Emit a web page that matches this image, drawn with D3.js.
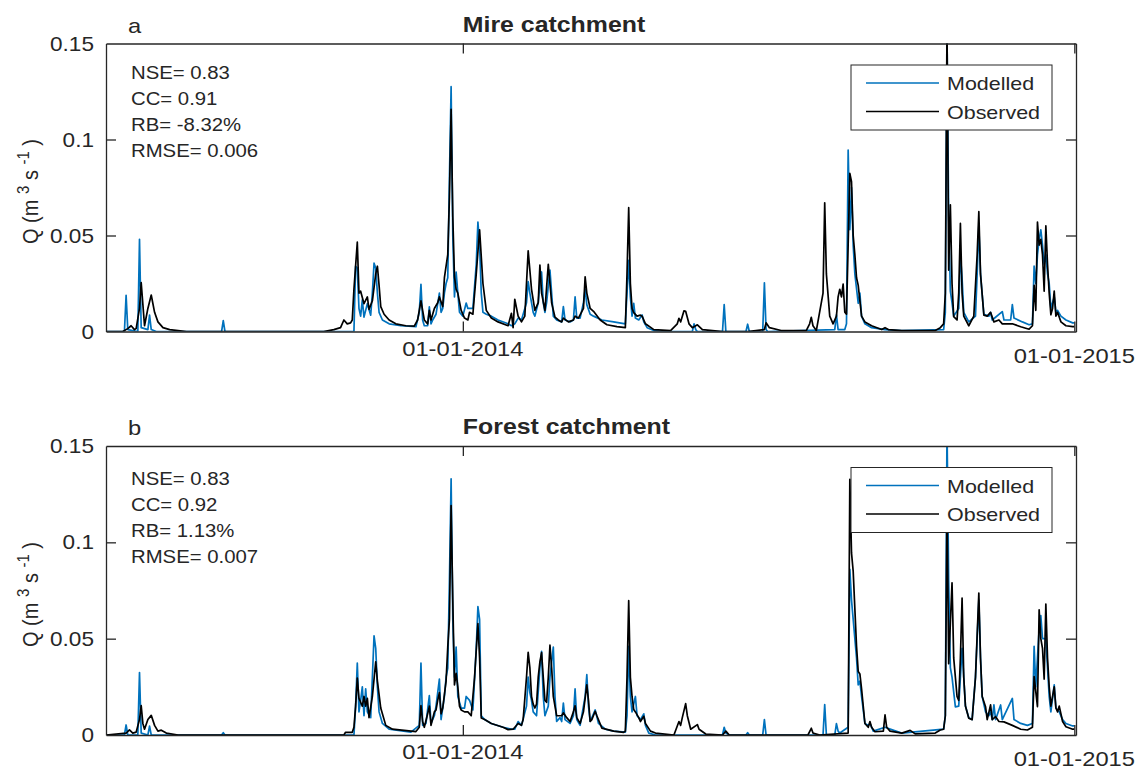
<!DOCTYPE html>
<html>
<head>
<meta charset="utf-8">
<script src="https://cdn.jsdelivr.net/npm/d3@7"></script>
<style>
  body { margin: 0; background: #fff; }
  text { font-family: "Liberation Sans", Arial, sans-serif; fill: #262626; }
</style>
</head>
<body>
<svg width="1141" height="771"></svg>
<script>
// ---- data (daily discharge, m3/s) ----

var seriesNames = ["Modelled", "Observed"];
var xTickDates = ["2014-01-01", "2015-01-01"];
var yTicks = [0, 0.05, 0.1, 0.15];

var mireStats = ["NSE= 0.83", "CC= 0.91", "RB= -8.32%", "RMSE= 0.006"];
var forestStats = ["NSE= 0.83", "CC= 0.92", "RB= 1.13%", "RMSE= 0.007"];

var mireObs = [
  ["2013-06-02",0],["2013-06-12",0],["2013-06-15",0.0015],["2013-06-17",0.003],["2013-06-19",0.001],["2013-06-20",0.0015],
  ["2013-06-22",0.012],["2013-06-23",0.0255],["2013-06-25",0.003],["2013-06-27",0.012],["2013-06-29",0.019],["2013-07-01",0.01],
  ["2013-07-03",0.005],["2013-07-06",0.002],["2013-07-10",0.001],["2013-07-20",0],
  ["2013-10-10",0],["2013-10-16",0.001],["2013-10-20",0.002],["2013-10-22",0.006],["2013-10-24",0.004],["2013-10-26",0.0045],
  ["2013-10-27",0.006],["2013-10-28",0.022],["2013-10-30",0.0465],["2013-10-31",0.020],["2013-11-01",0.021],["2013-11-03",0.0145],
  ["2013-11-05",0.018],["2013-11-06",0.0115],["2013-11-08",0.016],["2013-11-10",0.030],["2013-11-11",0.034],["2013-11-12",0.024],
  ["2013-11-13",0.013],["2013-11-15",0.009],["2013-11-18",0.006],["2013-11-22",0.004],["2013-11-28",0.003],["2013-12-03",0.0028],
  ["2013-12-05",0.006],["2013-12-07",0.016],["2013-12-09",0.006],["2013-12-11",0.004],["2013-12-12",0.011],["2013-12-13",0.006],
  ["2013-12-15",0.012],["2013-12-17",0.015],["2013-12-18",0.018],["2013-12-20",0.013],["2013-12-21",0.028],["2013-12-23",0.040],
  ["2013-12-24",0.07],["2013-12-25",0.1157],["2013-12-26",0.06],["2013-12-27",0.0285],["2013-12-28",0.022],["2013-12-29",0.020],
  ["2013-12-31",0.011],["2014-01-02",0.007],["2014-01-04",0.006],["2014-01-05",0.010],["2014-01-07",0.009],["2014-01-09",0.030],
  ["2014-01-11",0.053],["2014-01-13",0.025],["2014-01-15",0.011],["2014-01-18",0.007],["2014-01-22",0.005],["2014-01-28",0.003],
  ["2014-01-30",0.0095],["2014-01-31",0.002],["2014-02-01",0.0168],["2014-02-03",0.008],["2014-02-05",0.005],["2014-02-07",0.008],
  ["2014-02-09",0.042],["2014-02-11",0.022],["2014-02-13",0.011],["2014-02-15",0.015],["2014-02-16",0.0346],["2014-02-17",0.02],
  ["2014-02-19",0.011],["2014-02-21",0.035],["2014-02-23",0.015],["2014-02-25",0.0075],["2014-02-27",0.006],["2014-03-01",0.005],
  ["2014-03-02",0.007],["2014-03-05",0.005],["2014-03-08",0.006],["2014-03-09",0.008],["2014-03-11",0.007],["2014-03-14",0.012],
  ["2014-03-15",0.0285],["2014-03-16",0.02],["2014-03-18",0.012],["2014-03-20",0.0105],["2014-03-24",0.006],["2014-03-28",0.0035],
  ["2014-04-03",0.0025],["2014-04-08",0.002],["2014-04-09",0.030],["2014-04-10",0.0645],["2014-04-11",0.025],["2014-04-12",0.012],
  ["2014-04-13",0.0098],["2014-04-15",0.008],["2014-04-17",0.0085],["2014-04-18",0.008],["2014-04-20",0.004],["2014-04-25",0.001],
  ["2014-05-05",0.0005],["2014-05-09",0.004],["2014-05-10",0.0069],["2014-05-11",0.005],["2014-05-13",0.0108],["2014-05-14",0.0105],
  ["2014-05-16",0.004],["2014-05-18",0.002],["2014-05-21",0.0035],["2014-05-24",0.001],["2014-06-05",0],["2014-06-20",0],
  ["2014-06-30",0.001],["2014-07-01",0.0045],["2014-07-03",0.002],["2014-07-10",0.0005],["2014-07-25",0.0005],["2014-07-27",0.004],
  ["2014-07-28",0.0074],["2014-07-29",0.003],["2014-07-31",0.0005],["2014-08-04",0.02],["2014-08-05",0.067],["2014-08-06",0.03],
  ["2014-08-08",0.008],["2014-08-10",0.004],["2014-08-12",0.008],["2014-08-13",0.018],["2014-08-14",0.022],["2014-08-15",0.018],
  ["2014-08-16",0.0247],["2014-08-17",0.01],["2014-08-18",0.009],["2014-08-19",0.045],["2014-08-20",0.0824],["2014-08-21",0.078],
  ["2014-08-22",0.05],["2014-08-23",0.04],["2014-08-24",0.028],["2014-08-25",0.024],["2014-08-27",0.008],["2014-08-29",0.005],
  ["2014-09-02",0.003],["2014-09-08",0.001],["2014-09-10",0.002],["2014-09-12",0.001],["2014-09-20",0.0005],["2014-10-10",0.0005],
  ["2014-10-13",0.002],["2014-10-15",0.004],["2014-10-16",0.02],["2014-10-17",0.16],["2014-10-18",0.032],["2014-10-19",0.066],
  ["2014-10-20",0.025],["2014-10-21",0.0077],["2014-10-23",0.006],["2014-10-24",0.02],["2014-10-25",0.0563],["2014-10-26",0.02],
  ["2014-10-27",0.008],["2014-10-30",0.003],["2014-11-02",0.008],["2014-11-04",0.04],["2014-11-05",0.0624],["2014-11-06",0.03],
  ["2014-11-08",0.0085],["2014-11-10",0.008],["2014-11-12",0.010],["2014-11-14",0.005],["2014-11-17",0.006],["2014-11-19",0.004],
  ["2014-11-25",0.004],["2014-11-30",0.0025],["2014-12-05",0.0012],["2014-12-07",0.003],["2014-12-08",0.024],["2014-12-09",0.011],
  ["2014-12-10",0.057],["2014-12-11",0.045],["2014-12-12",0.048],["2014-12-13",0.04],["2014-12-14",0.021],["2014-12-15",0.055],
  ["2014-12-16",0.035],["2014-12-17",0.02],["2014-12-18",0.0087],["2014-12-19",0.012],["2014-12-20",0.021],["2014-12-21",0.008],
  ["2014-12-22",0.01],["2014-12-24",0.005],["2014-12-27",0.003],["2014-12-31",0.0025],["2015-01-01",0.0025]
];

var mireMod = [
  ["2013-06-02",0],["2013-06-13",0],["2013-06-14",0.0188],["2013-06-15",0.001],["2013-06-21",0],["2013-06-22",0.048],
  ["2013-06-23",0.002],["2013-06-27",0.001],["2013-06-28",0.0085],["2013-06-29",0.001],["2013-07-02",0],["2013-08-10",0],
  ["2013-08-11",0.0057],["2013-08-12",0],["2013-10-28",0],["2013-10-29",0.034],["2013-10-30",0.033],["2013-10-31",0.012],
  ["2013-11-01",0.008],["2013-11-02",0.0165],["2013-11-03",0.0075],["2013-11-05",0.0145],["2013-11-07",0.0085],["2013-11-08",0.02],
  ["2013-11-09",0.0356],["2013-11-10",0.033],["2013-11-11",0.02],["2013-11-12",0.01],["2013-11-14",0.006],["2013-11-18",0.004],
  ["2013-11-25",0.003],["2013-12-04",0.0025],["2013-12-06",0.01],["2013-12-07",0.0246],["2013-12-08",0.006],["2013-12-09",0.003],
  ["2013-12-11",0.003],["2013-12-12",0.0128],["2013-12-13",0.004],["2013-12-14",0.006],["2013-12-16",0.009],["2013-12-18",0.02],
  ["2013-12-19",0.01],["2013-12-20",0.012],["2013-12-21",0.02],["2013-12-22",0.025],["2013-12-23",0.028],["2013-12-24",0.08],
  ["2013-12-25",0.1275],["2013-12-26",0.05],["2013-12-27",0.018],["2013-12-28",0.031],["2013-12-29",0.02],["2013-12-30",0.01],
  ["2014-01-01",0.008],["2014-01-03",0.0148],["2014-01-04",0.012],["2014-01-07",0.012],["2014-01-09",0.035],["2014-01-10",0.057],
  ["2014-01-11",0.045],["2014-01-12",0.02],["2014-01-13",0.01],["2014-01-15",0.009],["2014-01-18",0.008],["2014-01-22",0.006],
  ["2014-01-28",0.004],["2014-01-30",0.003],["2014-02-01",0.004],["2014-02-03",0.007],["2014-02-05",0.006],["2014-02-08",0.015],
  ["2014-02-09",0.026],["2014-02-10",0.02],["2014-02-12",0.01],["2014-02-13",0.008],["2014-02-15",0.015],["2014-02-16",0.025],
  ["2014-02-17",0.031],["2014-02-18",0.015],["2014-02-19",0.01],["2014-02-20",0.015],["2014-02-22",0.032],["2014-02-23",0.02],
  ["2014-02-24",0.008],["2014-02-26",0.006],["2014-03-01",0.005],["2014-03-02",0.013],["2014-03-03",0.006],["2014-03-06",0.005],
  ["2014-03-08",0.006],["2014-03-09",0.018],["2014-03-10",0.007],["2014-03-12",0.007],["2014-03-14",0.015],["2014-03-15",0.022],
  ["2014-03-16",0.014],["2014-03-18",0.009],["2014-03-20",0.008],["2014-03-25",0.006],["2014-04-01",0.005],["2014-04-08",0.004],
  ["2014-04-09",0.02],["2014-04-10",0.037],["2014-04-11",0.018],["2014-04-12",0.008],["2014-04-13",0.0147],["2014-04-14",0.007],
  ["2014-04-16",0.006],["2014-04-18",0.0086],["2014-04-19",0.005],["2014-04-21",0.002],["2014-04-25",0.0005],["2014-05-01",0],
  ["2014-05-18",0],["2014-05-19",0.004],["2014-05-20",0.001],["2014-05-21",0],["2014-06-05",0],["2014-06-06",0.014],
  ["2014-06-07",0],["2014-06-19",0],["2014-06-20",0.0038],["2014-06-21",0],["2014-06-29",0],["2014-06-30",0.0254],
  ["2014-07-01",0.001],["2014-07-02",0],["2014-08-11",0.001],["2014-08-12",0.0087],["2014-08-13",0.001],["2014-08-17",0.001],
  ["2014-08-18",0.004],["2014-08-19",0.0945],["2014-08-20",0.053],["2014-08-21",0.075],["2014-08-22",0.045],["2014-08-23",0.03],
  ["2014-08-25",0.0147],["2014-08-26",0.02],["2014-08-27",0.008],["2014-08-29",0.004],["2014-09-02",0.002],["2014-09-10",0.001],
  ["2014-09-20",0.0005],["2014-10-15",0.001],["2014-10-16",0.01],["2014-10-17",0.155],["2014-10-18",0.06],["2014-10-19",0.021],
  ["2014-10-20",0.015],["2014-10-21",0.008],["2014-10-24",0.012],["2014-10-25",0.04],["2014-10-26",0.0277],["2014-10-27",0.01],
  ["2014-10-30",0.005],["2014-11-03",0.008],["2014-11-04",0.03],["2014-11-05",0.055],["2014-11-06",0.03],["2014-11-08",0.009],
  ["2014-11-11",0.008],["2014-11-12",0.010],["2014-11-13",0.006],["2014-11-19",0.0104],["2014-11-20",0.006],["2014-11-24",0.006],
  ["2014-11-25",0.014],["2014-11-26",0.007],["2014-12-01",0.005],["2014-12-05",0.0035],["2014-12-07",0.004],["2014-12-08",0.034],
  ["2014-12-09",0.025],["2014-12-10",0.04],["2014-12-11",0.048],["2014-12-12",0.053],["2014-12-13",0.045],["2014-12-14",0.035],
  ["2014-12-15",0.04],["2014-12-16",0.03],["2014-12-17",0.025],["2014-12-18",0.012],["2014-12-19",0.015],["2014-12-20",0.018],
  ["2014-12-21",0.01],["2014-12-22",0.011],["2014-12-24",0.008],["2014-12-27",0.006],["2014-12-31",0.0045],["2015-01-01",0.0045]
];

var forestObs = [
  ["2013-06-02",0],["2013-06-14",0.001],["2013-06-16",0.0026],["2013-06-18",0.001],["2013-06-20",0.0015],["2013-06-22",0.008],
  ["2013-06-23",0.0153],["2013-06-24",0.006],["2013-06-25",0.003],["2013-06-27",0.008],["2013-06-29",0.0102],["2013-07-01",0.005],
  ["2013-07-03",0.002],["2013-07-05",0.0025],["2013-07-08",0.001],["2013-07-15",0],["2013-10-22",0],["2013-10-23",0.0014],
  ["2013-10-27",0.0014],["2013-10-28",0.004],["2013-10-29",0.015],["2013-10-30",0.0295],["2013-10-31",0.019],["2013-11-01",0.017],
  ["2013-11-02",0.015],["2013-11-03",0.02],["2013-11-04",0.015],["2013-11-05",0.019],["2013-11-06",0.009],["2013-11-08",0.02],
  ["2013-11-10",0.038],["2013-11-11",0.028],["2013-11-13",0.014],["2013-11-16",0.005],["2013-11-20",0.003],["2013-12-04",0.0018],
  ["2013-12-06",0.004],["2013-12-07",0.0153],["2013-12-08",0.007],["2013-12-09",0.004],["2013-12-11",0.011],["2013-12-12",0.015],
  ["2013-12-13",0.005],["2013-12-15",0.012],["2013-12-16",0.013],["2013-12-17",0.018],["2013-12-18",0.022],["2013-12-19",0.011],
  ["2013-12-20",0.014],["2013-12-22",0.028],["2013-12-23",0.0456],["2013-12-24",0.06],["2013-12-25",0.1191],["2013-12-26",0.07],
  ["2013-12-27",0.026],["2013-12-28",0.032],["2013-12-29",0.025],["2013-12-30",0.015],["2013-12-31",0.013],["2014-01-02",0.012],
  ["2014-01-04",0.012],["2014-01-06",0.01],["2014-01-08",0.03],["2014-01-10",0.0578],["2014-01-11",0.04],["2014-01-12",0.0088],
  ["2014-01-14",0.008],["2014-01-18",0.006],["2014-01-25",0.004],["2014-01-28",0.0028],["2014-01-31",0.003],["2014-02-03",0.006],
  ["2014-02-05",0.005],["2014-02-06",0.008],["2014-02-08",0.03],["2014-02-09",0.0429],["2014-02-10",0.035],["2014-02-11",0.02],
  ["2014-02-12",0.016],["2014-02-13",0.014],["2014-02-14",0.016],["2014-02-15",0.03],["2014-02-16",0.038],["2014-02-17",0.0428],
  ["2014-02-18",0.03],["2014-02-19",0.018],["2014-02-20",0.017],["2014-02-21",0.03],["2014-02-22",0.0466],["2014-02-23",0.035],
  ["2014-02-24",0.02],["2014-02-26",0.01],["2014-03-01",0.01],["2014-03-02",0.0115],["2014-03-04",0.009],["2014-03-06",0.007],
  ["2014-03-08",0.012],["2014-03-09",0.0152],["2014-03-10",0.009],["2014-03-12",0.006],["2014-03-14",0.012],["2014-03-16",0.026],
  ["2014-03-17",0.018],["2014-03-18",0.007],["2014-03-19",0.008],["2014-03-21",0.0123],["2014-03-22",0.01],["2014-03-25",0.0036],
  ["2014-04-01",0.002],["2014-04-07",0.0014],["2014-04-08",0.002],["2014-04-09",0.03],["2014-04-10",0.0697],["2014-04-11",0.03],
  ["2014-04-12",0.02],["2014-04-13",0.0132],["2014-04-14",0.012],["2014-04-16",0.009],["2014-04-17",0.007],["2014-04-19",0.0097],
  ["2014-04-20",0.006],["2014-04-23",0.002],["2014-04-26",0.001],["2014-05-07",0],["2014-05-10",0.007],["2014-05-11",0.005],
  ["2014-05-12",0.009],["2014-05-14",0.0163],["2014-05-15",0.01],["2014-05-17",0.003],["2014-05-21",0.0054],["2014-05-22",0.003],
  ["2014-05-26",0.0005],["2014-06-05",0],["2014-06-07",0.002],["2014-06-09",0],["2014-07-26",0],["2014-07-28",0.0035],
  ["2014-07-29",0.001],["2014-08-02",0],["2014-08-19",0.001],["2014-08-20",0.1327],["2014-08-21",0.0945],["2014-08-22",0.085],
  ["2014-08-24",0.046],["2014-08-25",0.033],["2014-08-26",0.0317],["2014-08-27",0.024],["2014-08-29",0.006],["2014-08-31",0.004],
  ["2014-09-01",0.007],["2014-09-02",0.004],["2014-09-04",0.0017],["2014-09-09",0.002],["2014-09-10",0.0104],["2014-09-11",0.004],
  ["2014-09-13",0.002],["2014-09-20",0.001],["2014-09-25",0.0024],["2014-09-28",0.0006],["2014-10-10",0.001],["2014-10-13",0.0026],
  ["2014-10-15",0.003],["2014-10-16",0.01],["2014-10-17",0.12],["2014-10-18",0.037],["2014-10-20",0.079],["2014-10-21",0.04],
  ["2014-10-23",0.02],["2014-10-24",0.018],["2014-10-25",0.04],["2014-10-26",0.0711],["2014-10-27",0.03],["2014-10-28",0.015],
  ["2014-10-30",0.0087],["2014-11-01",0.008],["2014-11-03",0.03],["2014-11-05",0.0737],["2014-11-06",0.04],["2014-11-07",0.02],
  ["2014-11-09",0.0147],["2014-11-10",0.008],["2014-11-12",0.0156],["2014-11-13",0.008],["2014-11-15",0.0095],["2014-11-17",0.007],
  ["2014-11-20",0.0068],["2014-11-25",0.005],["2014-11-30",0.003],["2014-12-04",0.0026],["2014-12-07",0.004],["2014-12-08",0.0303],
  ["2014-12-10",0.0147],["2014-12-11",0.065],["2014-12-12",0.05],["2014-12-13",0.045],["2014-12-14",0.029],["2014-12-15",0.068],
  ["2014-12-16",0.04],["2014-12-17",0.025],["2014-12-18",0.015],["2014-12-20",0.025],["2014-12-21",0.014],["2014-12-22",0.012],
  ["2014-12-23",0.015],["2014-12-25",0.007],["2014-12-27",0.0043],["2014-12-31",0.003],["2015-01-01",0.003]
];

var forestMod = [
  ["2013-06-02",0],["2013-06-13",0],["2013-06-14",0.0052],["2013-06-15",0],["2013-06-21",0],["2013-06-22",0.0324],
  ["2013-06-23",0.001],["2013-06-27",0],["2013-06-28",0.0046],["2013-06-29",0],["2013-08-10",0],["2013-08-11",0.0012],
  ["2013-08-12",0],["2013-10-28",0],["2013-10-29",0.015],["2013-10-30",0.0373],["2013-10-31",0.012],["2013-11-01",0.018],
  ["2013-11-02",0.025],["2013-11-03",0.01],["2013-11-04",0.024],["2013-11-05",0.012],["2013-11-07",0.009],["2013-11-08",0.03],
  ["2013-11-09",0.0515],["2013-11-10",0.045],["2013-11-11",0.025],["2013-11-12",0.012],["2013-11-14",0.006],["2013-11-18",0.003],
  ["2013-12-01",0.0015],["2013-12-06",0.005],["2013-12-07",0.0373],["2013-12-08",0.005],["2013-12-10",0.006],["2013-12-12",0.0205],
  ["2013-12-13",0.006],["2013-12-15",0.01],["2013-12-16",0.015],["2013-12-18",0.029],["2013-12-19",0.008],["2013-12-21",0.02],
  ["2013-12-22",0.03],["2013-12-23",0.0347],["2013-12-24",0.08],["2013-12-25",0.133],["2013-12-26",0.06],["2013-12-27",0.03],
  ["2013-12-28",0.0456],["2013-12-29",0.02],["2013-12-31",0.014],["2014-01-02",0.014],["2014-01-03",0.02],["2014-01-05",0.018],
  ["2014-01-07",0.013],["2014-01-09",0.045],["2014-01-10",0.0667],["2014-01-11",0.06],["2014-01-12",0.01],["2014-01-14",0.008],
  ["2014-01-18",0.006],["2014-01-25",0.004],["2014-01-30",0.003],["2014-02-01",0.003],["2014-02-03",0.007],["2014-02-05",0.005],
  ["2014-02-08",0.015],["2014-02-09",0.03],["2014-02-10",0.022],["2014-02-11",0.018],["2014-02-12",0.012],["2014-02-14",0.01],
  ["2014-02-16",0.035],["2014-02-17",0.0434],["2014-02-18",0.02],["2014-02-19",0.01],["2014-02-21",0.015],["2014-02-22",0.03],
  ["2014-02-24",0.0456],["2014-02-25",0.02],["2014-02-26",0.007],["2014-02-28",0.009],["2014-03-01",0.007],["2014-03-02",0.0166],
  ["2014-03-03",0.008],["2014-03-06",0.006],["2014-03-08",0.01],["2014-03-09",0.0239],["2014-03-10",0.008],["2014-03-12",0.005],
  ["2014-03-15",0.02],["2014-03-16",0.0313],["2014-03-17",0.015],["2014-03-18",0.007],["2014-03-20",0.011],["2014-03-21",0.013],
  ["2014-03-23",0.006],["2014-03-27",0.003],["2014-04-01",0.002],["2014-04-08",0.0015],["2014-04-09",0.01],["2014-04-10",0.046],
  ["2014-04-11",0.02],["2014-04-12",0.012],["2014-04-14",0.02],["2014-04-15",0.01],["2014-04-17",0.008],["2014-04-19",0.011],
  ["2014-04-20",0.005],["2014-04-22",0.001],["2014-04-26",0],["2014-06-05",0],["2014-06-06",0.004],["2014-06-07",0.001],
  ["2014-06-09",0],["2014-06-19",0],["2014-06-20",0.0012],["2014-06-21",0],["2014-06-29",0],["2014-06-30",0.008],
  ["2014-07-01",0],["2014-08-04",0],["2014-08-05",0.0158],["2014-08-06",0],["2014-08-11",0],["2014-08-12",0.0059],
  ["2014-08-13",0.002],["2014-08-14",0.001],["2014-08-19",0.004],["2014-08-20",0.086],["2014-08-21",0.07],["2014-08-22",0.06],
  ["2014-08-24",0.04],["2014-08-25",0.026],["2014-08-26",0.028],["2014-08-27",0.02],["2014-08-29",0.006],["2014-08-31",0.005],
  ["2014-09-01",0.006],["2014-09-03",0.002],["2014-09-10",0.004],["2014-09-20",0.001],["2014-10-15",0.003],["2014-10-16",0.01],
  ["2014-10-17",0.16],["2014-10-18",0.08],["2014-10-19",0.035],["2014-10-20",0.03],["2014-10-22",0.0146],["2014-10-24",0.015],
  ["2014-10-25",0.03],["2014-10-26",0.045],["2014-10-27",0.03],["2014-10-28",0.015],["2014-10-30",0.009],["2014-11-01",0.008],
  ["2014-11-03",0.03],["2014-11-05",0.07],["2014-11-06",0.04],["2014-11-07",0.02],["2014-11-09",0.012],["2014-11-11",0.01],
  ["2014-11-12",0.012],["2014-11-13",0.008],["2014-11-14",0.0156],["2014-11-15",0.008],["2014-11-18",0.0156],["2014-11-19",0.008],
  ["2014-11-25",0.019],["2014-11-26",0.008],["2014-11-30",0.006],["2014-12-04",0.005],["2014-12-07",0.006],["2014-12-08",0.046],
  ["2014-12-09",0.025],["2014-12-10",0.04],["2014-12-11",0.055],["2014-12-12",0.062],["2014-12-13",0.05],["2014-12-14",0.05],
  ["2014-12-15",0.05],["2014-12-16",0.035],["2014-12-17",0.02],["2014-12-18",0.012],["2014-12-20",0.026],["2014-12-21",0.014],
  ["2014-12-23",0.012],["2014-12-25",0.008],["2014-12-27",0.006],["2014-12-31",0.0047],["2015-01-01",0.0047]
];

// ---- drawing ----

var svg = d3.select("svg"),
    parse = d3.timeParse("%Y-%m-%d"),
    fmt = d3.timeFormat("%d-%m-%Y"),
    stretch = 1.13,        // the source figure's text is a little wide
    axisColor = "#262626",
    modColor = "#0072BD",
    obsColor = "#000000";

var x = d3.scaleTime()
  .domain([parse("2013-06-02"), parse("2015-01-02")])
  .range([106, 1076]);

var panels = [
  { id: "a", title: "Mire catchment", top: 43.5, bottom: 331.5, stats: mireStats, statsY: 79,
    mod: mireMod, obs: mireObs, legendTop: 65 },
  { id: "b", title: "Forest catchment", top: 446, bottom: 735, stats: forestStats, statsY: 485,
    mod: forestMod, obs: forestObs, legendTop: 467.5 }
];

// put a (horizontally widened) text label on the page
function label(g, px, py, str, size, anchor, weight) {
  return g.append("text")
    .attr("transform", "translate(" + px + "," + py + ") scale(" + stretch + ",1)")
    .attr("text-anchor", anchor || "start")
    .style("font-size", size + "px")
    .style("font-weight", weight || "normal")
    .text(str);
}

panels.forEach(function(p) {
  var g = svg.append("g");
  var y = d3.scaleLinear().domain([0, 0.15]).range([p.bottom, p.top]);

  g.append("clipPath").attr("id", "clip-" + p.id)
    .append("rect")
    .attr("x", x.range()[0]).attr("y", p.top)
    .attr("width", x.range()[1] - x.range()[0])
    .attr("height", p.bottom - p.top);

  var line = d3.line()
    .x(function(d) { return x(parse(d[0])); })
    .y(function(d) { return y(d[1]); });

  var lines = g.append("g").attr("clip-path", "url(#clip-" + p.id + ")");
  lines.append("path").datum(p.mod)
    .attr("d", line).attr("fill", "none")
    .attr("stroke", modColor).attr("stroke-width", 1.7).attr("stroke-linejoin", "round");
  lines.append("path").datum(p.obs)
    .attr("d", line).attr("fill", "none")
    .attr("stroke", obsColor).attr("stroke-width", 1.7).attr("stroke-linejoin", "round");

  // box with inward ticks on all four sides
  var xt = xTickDates.map(parse);
  var axes = [
    d3.axisLeft(y).tickValues(yTicks).tickSizeInner(-10).tickSizeOuter(0),
    d3.axisRight(y).tickValues(yTicks).tickSizeInner(-10).tickSizeOuter(0),
    d3.axisBottom(x).tickValues(xt).tickSizeInner(-10).tickSizeOuter(0),
    d3.axisTop(x).tickValues(xt).tickSizeInner(-10).tickSizeOuter(0)
  ];
  var shifts = ["translate(" + x.range()[0] + ",0)", "translate(" + x.range()[1] + ",0)",
                "translate(0," + p.bottom + ")", "translate(0," + p.top + ")"];
  axes.forEach(function(ax, i) {
    var a = g.append("g").attr("transform", shifts[i]).call(ax);
    a.selectAll("text").remove();
    a.selectAll("line, path").attr("stroke", axisColor).attr("stroke-width", 1.3);
    a.selectAll("line").filter(function(d) {
      return d === 0.15 || d === 0;
    }).remove();
  });

  // tick labels
  yTicks.forEach(function(v) {
    label(g, 94, y(v) + 7, d3.format("")(v), 20, "end");
  });
  xt.forEach(function(d, i) {
    label(g, x(d), p.bottom + (i === 0 ? 24 : 31), fmt(d), 21, "middle");
  });

  // y axis title with superscripts
  var cy = (p.top + p.bottom) / 2 + 4;
  var yl = g.append("text")
    .attr("transform", "translate(38," + cy + ") rotate(-90) scale(1," + stretch + ")")
    .attr("text-anchor", "middle")
    .style("font-size", "20px");
  yl.append("tspan").text("Q (m ");
  yl.append("tspan").attr("dy", -8).style("font-size", "15px").text("3");
  yl.append("tspan").attr("dy", 8).text("  s ");
  yl.append("tspan").attr("dy", -8).style("font-size", "15px").text("-1");
  yl.append("tspan").attr("dy", 8).text(" )");

  // panel letter and title
  label(g, 128, p.top - 11, p.id, 21);
  label(g, x(xt[0]), p.top - 12, p.title, 22, "start", "bold");

  // goodness-of-fit numbers
  p.stats.forEach(function(s, i) {
    label(g, 131, p.statsY + i * 26, s, 18);
  });

  // legend
  var lg = g.append("g").attr("transform", "translate(851," + p.legendTop + ")");
  lg.append("rect")
    .attr("width", 201).attr("height", 65)
    .attr("fill", "#fff").attr("stroke", axisColor).attr("stroke-width", 1);
  [modColor, obsColor].forEach(function(c, i) {
    var ly = 18 + i * 28.5;
    lg.append("line")
      .attr("x1", 15).attr("x2", 88).attr("y1", ly).attr("y2", ly)
      .attr("stroke", c).attr("stroke-width", 1.7);
    label(lg, 96, ly + 7, seriesNames[i], 19);
  });
});
</script>
</body>
</html>
